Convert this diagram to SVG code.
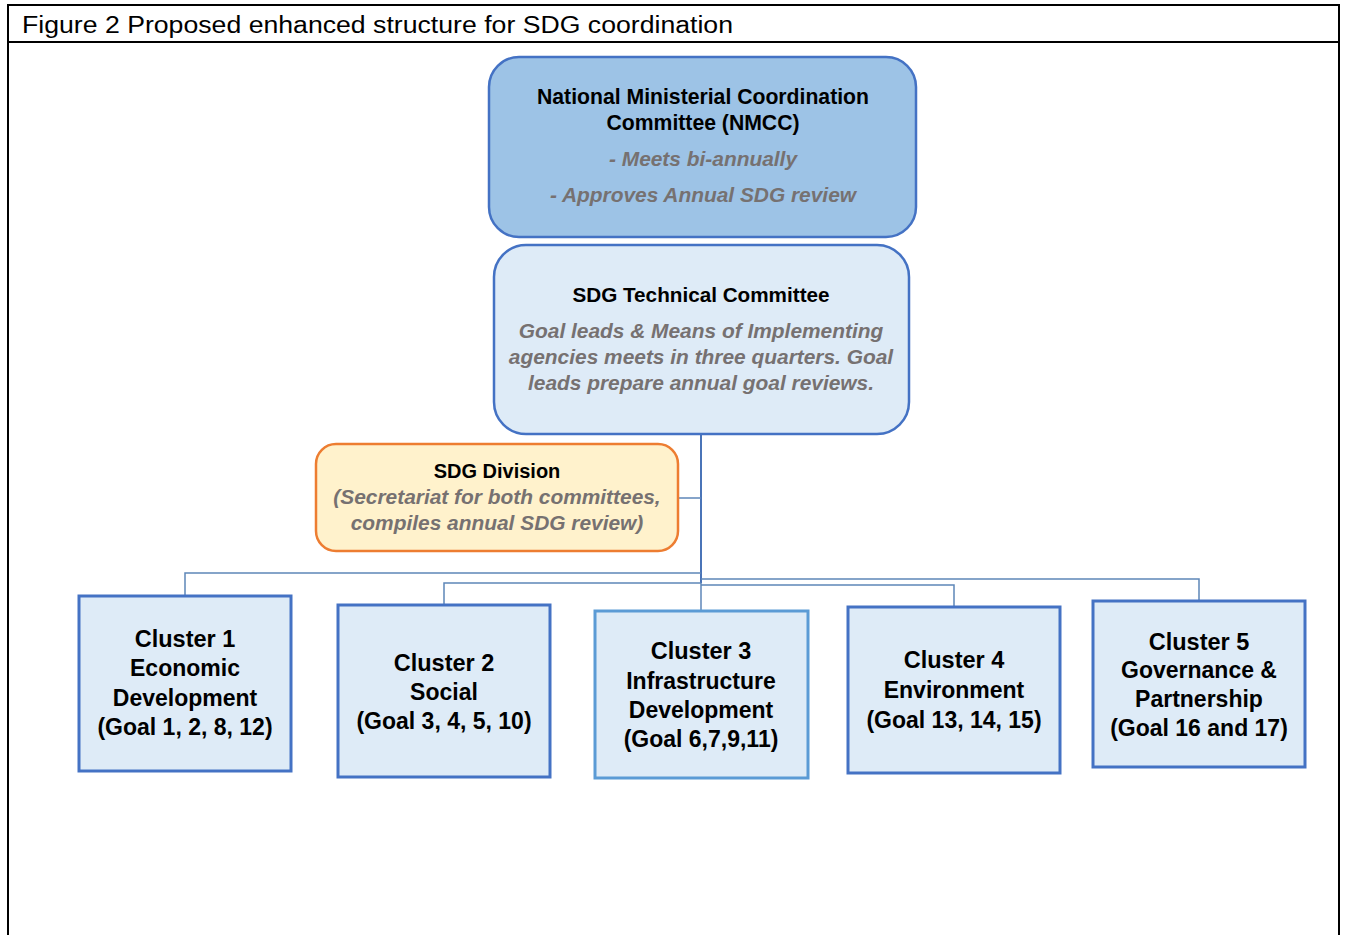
<svg xmlns="http://www.w3.org/2000/svg" width="1349" height="935" viewBox="0 0 1349 935">
<style>
  .frame{fill:none;stroke:#000;stroke-width:2}
  .title{font-family:"Liberation Sans",Arial,sans-serif;font-size:23px;fill:#000}
  .bt{font-family:"Liberation Sans",Arial,sans-serif;font-weight:bold;font-size:21.2px;fill:#000;text-anchor:middle}
  .it{font-family:"Liberation Sans",Arial,sans-serif;font-weight:bold;font-style:italic;font-size:20.9px;fill:#767171;text-anchor:middle}
  .ct{font-family:"Liberation Sans",Arial,sans-serif;font-weight:bold;font-size:23px;fill:#000;text-anchor:middle}
  .ch{font-size:23.5px}
  .nmcc{fill:#9DC3E6;stroke:#4472C4;stroke-width:2.5}
  .tech{fill:#DEEBF7;stroke:#4472C4;stroke-width:2.5}
  .div{fill:#FFF2CC;stroke:#ED7D31;stroke-width:2.5}
  .cl{fill:#DEEBF7;stroke:#4472C4;stroke-width:3}
  .cl3{fill:#DEEBF7;stroke:#5B9BD5;stroke-width:3}
  .main{fill:none;stroke:#4A74B8;stroke-width:2}
  .br{fill:none;stroke:#5E86B8;stroke-width:1.5}
</style>
<rect x="0" y="0" width="1349" height="935" fill="#fff"/>
<g id="frame">
  <path class="frame" d="M8,940 V5 H1339 V940"/>
  <line class="frame" x1="8" y1="42" x2="1339" y2="42"/>
  <text class="title" x="22" y="33" textLength="711" lengthAdjust="spacingAndGlyphs">Figure 2 Proposed enhanced structure for SDG coordination</text>
</g>
<g id="connectors">
  <path class="main" d="M701,434 V583"/>
  <path class="br" d="M701,583 V611"/>
  <path class="br" d="M678,498 H701"/>
  <path class="br" d="M701,573 H185 V596"/>
  <path class="br" d="M701,583 H444 V605"/>
  <path class="br" d="M701,579 H1199 V601"/>
  <path class="br" d="M701,585 H954 V607"/>
</g>
<g id="nmcc">
  <rect class="nmcc" x="489" y="57" width="427" height="180" rx="30"/>
  <text class="bt" x="703" y="104">National Ministerial Coordination</text>
  <text class="bt" x="703" y="130">Committee (NMCC)</text>
  <text class="it" x="703" y="166">- Meets bi-annually</text>
  <text class="it" x="703" y="202">- Approves Annual SDG review</text>
</g>
<g id="technical">
  <rect class="tech" x="494" y="245" width="415" height="189" rx="32"/>
  <text class="bt" x="701" y="302" style="font-size:20.7px">SDG Technical Committee</text>
  <text class="it" x="701" y="338">Goal leads &amp; Means of Implementing</text>
  <text class="it" x="701" y="364">agencies meets in three quarters. Goal</text>
  <text class="it" x="701" y="390">leads prepare annual goal reviews.</text>
</g>
<g id="division">
  <rect class="div" x="316" y="444" width="362" height="107" rx="20"/>
  <text class="bt" x="497" y="478" style="font-size:20px">SDG Division</text>
  <text class="it" x="497" y="504">(Secretariat for both committees,</text>
  <text class="it" x="497" y="530">compiles annual SDG review)</text>
</g>
<g id="cluster1">
  <rect class="cl" x="79" y="596" width="212" height="175"/>
  <text class="ct ch" x="185" y="647">Cluster 1</text>
  <text class="ct" x="185" y="676">Economic</text>
  <text class="ct" x="185" y="706">Development</text>
  <text class="ct" x="185" y="735">(Goal 1, 2, 8, 12)</text>
</g>
<g id="cluster2">
  <rect class="cl" x="338" y="605" width="212" height="172"/>
  <text class="ct ch" x="444" y="671">Cluster 2</text>
  <text class="ct" x="444" y="700">Social</text>
  <text class="ct" x="444" y="729">(Goal 3, 4, 5, 10)</text>
</g>
<g id="cluster3">
  <rect class="cl3" x="595" y="611" width="213" height="167"/>
  <text class="ct ch" x="701" y="659">Cluster 3</text>
  <text class="ct" x="701" y="689">Infrastructure</text>
  <text class="ct" x="701" y="718">Development</text>
  <text class="ct" x="701" y="747">(Goal 6,7,9,11)</text>
</g>
<g id="cluster4">
  <rect class="cl" x="848" y="607" width="212" height="166"/>
  <text class="ct ch" x="954" y="668">Cluster 4</text>
  <text class="ct" x="954" y="698">Environment</text>
  <text class="ct" x="954" y="728">(Goal 13, 14, 15)</text>
</g>
<g id="cluster5">
  <rect class="cl" x="1093" y="601" width="212" height="166"/>
  <text class="ct ch" x="1199" y="650">Cluster 5</text>
  <text class="ct" x="1199" y="678">Governance &amp;</text>
  <text class="ct" x="1199" y="707">Partnership</text>
  <text class="ct" x="1199" y="736">(Goal 16 and 17)</text>
</g>
</svg>
